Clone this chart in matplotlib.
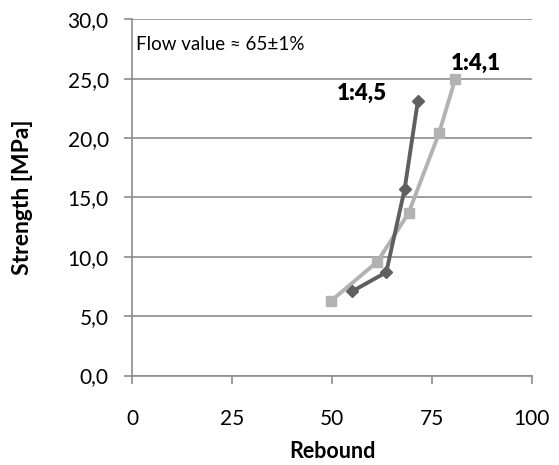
import matplotlib
matplotlib.use("Agg")
import matplotlib.pyplot as plt
from matplotlib.ticker import FuncFormatter

# Rebound hammer readings vs. compressive strength for two mix ratios
rebound_45 = [55.1, 63.6, 68.2, 71.5]
strength_45 = [7.1, 8.7, 15.7, 23.1]

rebound_41 = [49.8, 61.4, 69.2, 76.8, 80.9]
strength_41 = [6.3, 9.6, 13.7, 20.4, 25.0]

x_ticks = [0, 25, 50, 75, 100]
y_ticks = [0, 5, 10, 15, 20, 25, 30]

plt.rcParams['font.family'] = ['Lato', 'DejaVu Sans']

fig = plt.figure(figsize=(5.59, 4.65), dpi=100)
ax = fig.add_axes([0.2367, 0.1923, 0.951 - 0.2367, 0.9585 - 0.1923])

grid_c = '#8c8c8c'
ax.set_xlim(0, 100)
ax.set_ylim(0, 30)
ax.set_xticks(x_ticks)
ax.set_yticks(y_ticks)
ax.yaxis.grid(True, color=grid_c, linewidth=1.2)
ax.set_axisbelow(True)
for s in ('top', 'right'):
    ax.spines[s].set_visible(False)
for s in ('left', 'bottom'):
    ax.spines[s].set_color(grid_c)
    ax.spines[s].set_linewidth(1.2)
ax.tick_params(axis='both', direction='out', length=6, width=1.2, color=grid_c,
               labelsize=15, labelcolor='black')
ax.tick_params(axis='x', pad=18)
ax.tick_params(axis='y', pad=11)
ax.yaxis.set_major_formatter(FuncFormatter(lambda v, p: f"{v:.1f}".replace('.', ',')))

ax.plot(rebound_41, strength_41, color='#b2b2b2', linewidth=2.8, marker='s',
        markersize=7, clip_on=False, zorder=3)
ax.plot(rebound_45, strength_45, color='#5f5f5f', linewidth=2.8, marker='D',
        markersize=6.5, clip_on=False, zorder=4)

ax.annotate('1:4,5', xy=(rebound_45[-1], strength_45[-1]), xytext=(-22, 6),
            textcoords='offset points', fontsize=16, fontweight='heavy',
            ha='right', va='center')
ax.annotate('1:4,1', xy=(rebound_41[-1], strength_41[-1]), xytext=(-3, 11),
            textcoords='offset points', fontsize=16, fontweight='heavy',
            ha='left', va='center')

ax.text(1, 27.9, 'Flow value \u2248 65\u00b11%', fontsize=13.5, va='center')

ax.set_xlabel('Rebound', fontsize=15.5, fontweight='bold', labelpad=9)
ax.set_ylabel('Strength [MPa]', fontsize=16.5, fontweight='bold', labelpad=25)

fig.savefig('out.png', dpi=100)
